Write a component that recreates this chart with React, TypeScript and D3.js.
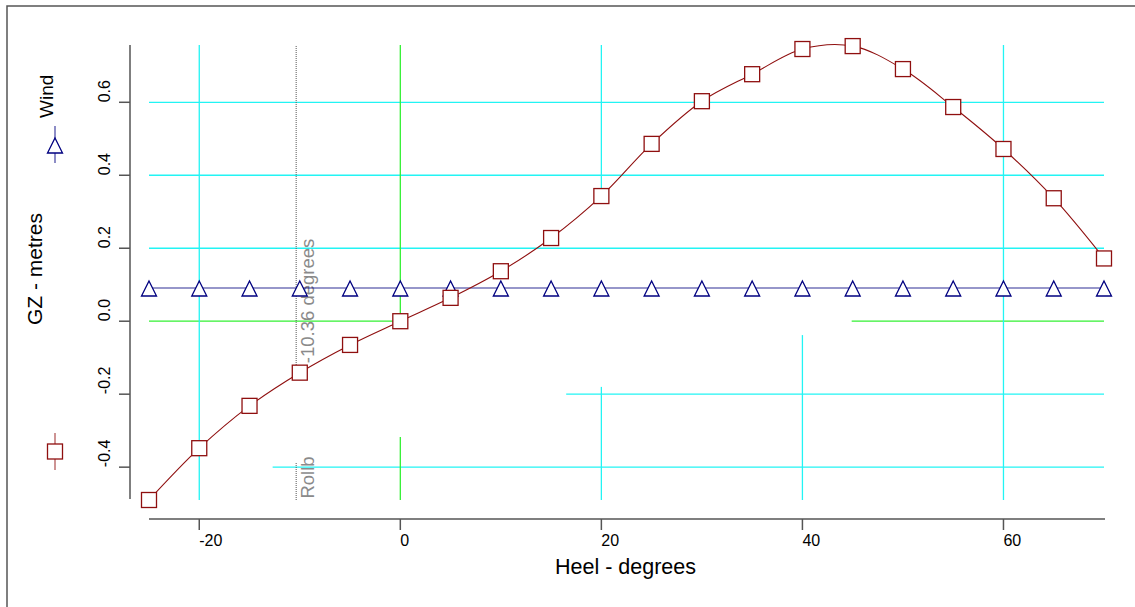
import React from "react";
import * as d3 from "d3";

// ---- data ----
const heel: number[] = [-25, -20, -15, -10, -5, 0, 5, 10, 15, 20, 25, 30, 35, 40, 45, 50, 55, 60, 65, 70];
const gz: number[] = [-0.49, -0.348, -0.232, -0.141, -0.065, 0.0, 0.064, 0.137, 0.228, 0.343, 0.486, 0.603, 0.677, 0.746, 0.754, 0.691, 0.587, 0.472, 0.337, 0.172];
const wind: number[] = heel.map(() => 0.091);
const xTicks: number[] = [-20, 0, 20, 40, 60];
const yTicks: number[] = [-0.4, -0.2, 0.0, 0.2, 0.4, 0.6];
const xDomain: [number, number] = [-25, 70];
const yDomain: [number, number] = [-0.49, 0.757];
const rollAngle = -10.36;
// gridline segments in data units
const hGrid = [
  { v: 0.6, from: -25, to: 70, kind: "c" },
  { v: 0.4, from: -25, to: 70, kind: "c" },
  { v: 0.2, from: -25, to: 70, kind: "c" },
  { v: 0.0, from: -25, to: 0, kind: "g" },
  { v: 0.0, from: 44.9, to: 70, kind: "g" },
  { v: -0.2, from: 16.5, to: 70, kind: "c" },
  { v: -0.4, from: -12.7, to: 70, kind: "c" },
];
const vGrid = [
  { v: -20, from: -0.49, to: 0.757, kind: "c" },
  { v: 0, from: 0.0, to: 0.757, kind: "g" },
  { v: 0, from: -0.49, to: -0.317, kind: "g" },
  { v: 20, from: 0.343, to: 0.757, kind: "c" },
  { v: 20, from: -0.49, to: -0.18, kind: "c" },
  { v: 40, from: -0.49, to: -0.038, kind: "c" },
  { v: 60, from: -0.49, to: 0.757, kind: "c" },
];
const rollSegments = [
  { from: -0.12, to: 0.757 },
  { from: -0.49, to: -0.388 },
];

const FONT = "'Liberation Sans', Arial, sans-serif";
const CYAN = "#22f4f4";
const GREEN = "#33f033";
const MAROON = "#8f0f0f";
const NAVY = "#000080";
const TRI = "M0,-7L7.5,8L-7.5,8Z";

export default function App() {
  const x = d3.scaleLinear().domain(xDomain).range([149, 1104]);
  const y = d3.scaleLinear().domain(yDomain).range([500, 45]);
  const pts = heel.map((h, i) => [x(h), y(gz[i])] as [number, number]);
  const gzPath = d3.line().curve(d3.curveCatmullRom.alpha(0.5))(pts) || "";
  const windPath = d3.line()(heel.map((h, i) => [x(h), y(wind[i])] as [number, number])) || "";
  const xAxisY = 519;
  const yAxisX = 130;
  const xr = x(rollAngle);

  return (
    <svg width={1135} height={607} style={{ position: "absolute", left: 0, top: 0, background: "#fff" }} fontFamily={FONT}>
      <rect x={7} y={6} width={1300} height={800} fill="none" stroke="#555" strokeWidth={1.5} />
      {/* gridlines */}
      {hGrid.map((g, i) => (
        <line key={"h" + i} x1={x(g.from)} x2={x(g.to)} y1={y(g.v)} y2={y(g.v)} stroke={g.kind === "c" ? CYAN : GREEN} strokeWidth={1.3} />
      ))}
      {vGrid.map((g, i) => (
        <line key={"v" + i} x1={x(g.v)} x2={x(g.v)} y1={y(g.from)} y2={y(g.to)} stroke={g.kind === "c" ? CYAN : GREEN} strokeWidth={1.3} />
      ))}
      {/* roll marker */}
      {rollSegments.map((s, i) => (
        <line key={"r" + i} x1={xr} x2={xr} y1={y(s.from)} y2={y(s.to)} stroke="#555" strokeWidth={1} strokeDasharray="1,1" />
      ))}
      <text transform={`translate(${xr + 18},${y(-0.115)}) rotate(-90)`} fontSize={18.5} fill="#8a8a8a">{`${rollAngle} degrees`}</text>
      <text transform={`translate(${xr + 18},${y(-0.486)}) rotate(-90)`} fontSize={18.5} fill="#8a8a8a">Rollb</text>

      {/* axes */}
      <line x1={yAxisX} x2={yAxisX} y1={45} y2={499} stroke="#555" strokeWidth={1.5} />
      {yTicks.map((t) => (
        <g key={"yt" + t}>
          <line x1={yAxisX - 11} x2={yAxisX} y1={y(t)} y2={y(t)} stroke="#555" strokeWidth={1.5} />
          <text transform={`translate(110,${y(t)}) rotate(-90)`} fontSize={16} fill="#000">{t.toFixed(1)}</text>
        </g>
      ))}
      <line x1={149} x2={1105} y1={xAxisY} y2={xAxisY} stroke="#555" strokeWidth={1.5} />
      {xTicks.map((t) => (
        <g key={"xt" + t}>
          <line x1={x(t)} x2={x(t)} y1={xAxisY} y2={xAxisY + 11} stroke="#555" strokeWidth={1.5} />
          <text x={x(t)} y={546} fontSize={16} fill="#000">{t}</text>
        </g>
      ))}
      <text x={555} y={574} fontSize={21.5} fill="#000">Heel - degrees</text>
      <text transform={`translate(42,325) rotate(-90)`} fontSize={21} fill="#000">GZ - metres</text>

      {/* legend */}
      <line x1={55} x2={55} y1={126} y2={163} stroke={NAVY} strokeOpacity={0.6} strokeWidth={1.5} />
      <path d={TRI} transform="translate(55,145)" fill="#fff" stroke={NAVY} strokeWidth={1.3} />
      <text transform="translate(53,118) rotate(-90)" fontSize={19} fill="#000">Wind</text>
      <line x1={55} x2={55} y1={433} y2={470} stroke={MAROON} strokeOpacity={0.6} strokeWidth={1.5} />
      <rect x={47.5} y={444} width={15} height={15} fill="#fff" stroke={MAROON} strokeWidth={1.3} />

      {/* series */}
      <path d={windPath} fill="none" stroke={NAVY} strokeOpacity={0.55} strokeWidth={1.6} />
      <path d={gzPath} fill="none" stroke={MAROON} strokeWidth={1.1} />
      {heel.map((h, i) => (
        <path key={"w" + i} d={TRI} transform={`translate(${x(h)},${y(wind[i])})`} fill="#fff" stroke={NAVY} strokeWidth={1.3} />
      ))}
      {heel.map((h, i) => (
        <rect key={"s" + i} x={x(h) - 7.5} y={y(gz[i]) - 7.5} width={15} height={15} fill="#fff" stroke={MAROON} strokeWidth={1.3} />
      ))}
    </svg>
  );
}
